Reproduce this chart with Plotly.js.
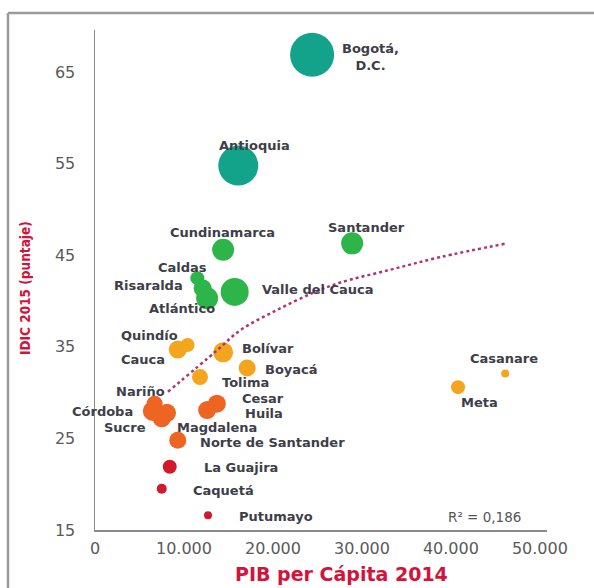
<!DOCTYPE html>
<html>
<head>
<meta charset="utf-8">
<script src="https://cdn.plot.ly/plotly-3.0.1.min.js"></script>
<style>
html,body{margin:0;padding:0;background:#fff;}
#chart{width:594px;height:588px;}
</style>
</head>
<body>
<div id="chart"></div>
<script>
// ---- data ----
const departamentos = ["Bogotá,<br>D.C.","Antioquia","Santander","Cundinamarca","Caldas","Risaralda","Valle del Cauca","Atlántico","Quindío","Cauca","Bolívar","Boyacá","Tolima","Casanare","Meta","Nariño","Córdoba","Sucre","Magdalena","Cesar","Huila","Norte de Santander","La Guajira","Caquetá","Putumayo"];
const pibPerCapita2014 = [24400,16100,28900,14400,11500,12100,15700,12600,10400,9300,14400,17100,11800,46100,40800,6700,6500,7500,8100,13700,12600,9300,8400,7500,12700];
const idic2015 = [66.9,54.8,46.3,45.6,42.5,41.4,41.0,40.3,35.2,34.7,34.4,32.7,31.7,32.1,30.6,28.8,28.0,27.2,27.8,28.8,28.1,24.8,21.9,19.5,16.6];
const tamanoBurbuja = [44,40,22,22,14,18,28,22,14,18,20,17,16,8,14,16,20,18,18,18,18,17,14,10,8];
const grupo = [0,0,1,1,1,1,1,1,2,2,2,2,2,2,2,3,3,3,3,3,3,3,4,4,4];
const tendenciaX = [8200,13700,16300,20400,24500,27500,33100,38800,46300];
const tendenciaY = [30.1,34.6,36.8,39.0,40.9,42.0,43.4,44.8,46.3];
const xTicks = [0,10000,20000,30000,40000,50000];
const yTicks = [15,25,35,45,55,65];
const r2Texto = "R² = 0,186";

// ---- styles ----
const coloresGrupo = ["#12a38a","#2eb54a","#f4a51f","#ee6423","#d1192c"];
// label placement: [xanchor, xshift, yshift]
const etiquetaPos = [
  ["left",28,-2],["center",16,20],["center",14,16],["center",-1,17],["center",-15,11],
  ["right",-18,3],["left",25,2],["center",-25,-10],["right",-8,10],["right",-11,-10],
  ["left",17,4],["left",16,-2],["left",20,-5],["center",-1,15],["center",21,-15],
  ["right",12,12],["right",-18,-1],["right",-14,-9],["left",8,-15],["left",23,5],
  ["left",36,-3],["left",20,-2],["left",32,-1],["left",29,-2],["left",29,-1]
];

const fontEtiqueta = {family:"DejaVu Sans", size:13, color:"#3e3e48", weight:700};

const burbujas = {
  type:"scatter", mode:"markers",
  x: pibPerCapita2014, y: idic2015,
  marker:{size: tamanoBurbuja, sizemode:"diameter",
          color: grupo.map(g=>coloresGrupo[g]), line:{width:0}, opacity:1},
  hoverinfo:"skip", cliponaxis:false
};
const tendencia = {
  type:"scatter", mode:"lines",
  x: tendenciaX, y: tendenciaY,
  line:{color:"#b3346c", width:2.5, dash:"dot", shape:"spline"},
  hoverinfo:"skip"
};

const annotations = departamentos.map((d,i)=>({
  x: pibPerCapita2014[i], y: idic2015[i], xref:"x", yref:"y",
  text: d, showarrow:false, xanchor: etiquetaPos[i][0], yanchor:"middle",
  xshift: etiquetaPos[i][1], yshift: etiquetaPos[i][2],
  font: fontEtiqueta, align:"center"
}));
annotations.push({
  xref:"paper", yref:"paper", x:0.861, y:0.026, text:r2Texto, showarrow:false,
  xanchor:"center", yanchor:"middle",
  font:{family:"DejaVu Sans", size:13.5, color:"#555"}
});
annotations.push({
  xref:"paper", yref:"paper", x:0.546, y:0, yshift:-44, text:"PIB per Cápita 2014", showarrow:false,
  xanchor:"center", yanchor:"middle",
  font:{family:"DejaVu Sans", size:19, color:"#d2143a", weight:700}
});
annotations.push({
  xref:"paper", yref:"paper", x:0, xshift:-70, y:0.484, text:"IDIC 2015 (puntaje)", showarrow:false,
  textangle:-90, xanchor:"center", yanchor:"middle",
  font:{family:"DejaVu Sans Condensed, DejaVu Sans", size:13.5, color:"#d2143a", weight:700}
});

const layout = {
  width:594, height:588,
  margin:{l:95, r:47, t:30, b:58},
  paper_bgcolor:"#fff", plot_bgcolor:"#fff",
  separators:",.",
  showlegend:false,
  xaxis:{range:[0,50800], tickvals:xTicks, tickformat:",.0f",
         showgrid:false, zeroline:false, showline:true, linecolor:"#8a8a8a", linewidth:1.5,
         ticks:"", ticklabelstandoff:3,
         tickfont:{family:"DejaVu Sans", size:16, color:"#5a5a5a"}},
  yaxis:{range:[15,69.6], tickvals:yTicks,
         showgrid:false, zeroline:false, showline:true, linecolor:"#8a8a8a", linewidth:1.5,
         ticks:"", ticklabelstandoff:15,
         tickfont:{family:"DejaVu Sans", size:16, color:"#5a5a5a"}},
  annotations: annotations,
  shapes:[
    {type:"line", xref:"paper", yref:"paper", x0:-0.1925, x1:-0.1925, y0:1.034, y1:-0.2, line:{color:"#9a9a9a", width:2.5}},
    {type:"line", xref:"paper", yref:"paper", x0:-0.1925, x1:1.2, y0:1.034, y1:1.034, line:{color:"#9a9a9a", width:2.5}}
  ]
};

Plotly.newPlot("chart", [burbujas, tendencia], layout, {staticPlot:true, displayModeBar:false});
</script>
</body>
</html>
